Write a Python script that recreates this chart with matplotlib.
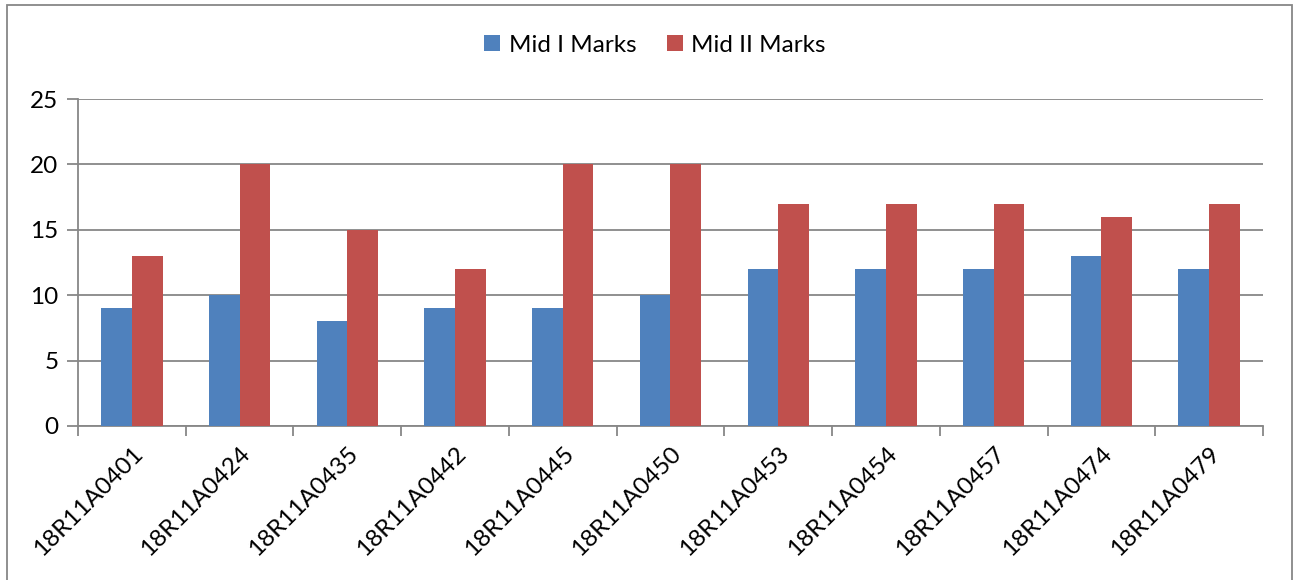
import matplotlib.pyplot as plt
import matplotlib.patches as mpatches
import numpy as np

students = ['18R11A0401', '18R11A0424', '18R11A0435', '18R11A0442', '18R11A0445',
            '18R11A0450', '18R11A0453', '18R11A0454', '18R11A0457', '18R11A0474',
            '18R11A0479']
mid1 = [9, 10, 8, 9, 9, 10, 12, 12, 12, 13, 12]
mid2 = [13, 20, 15, 12, 20, 20, 17, 17, 17, 16, 17]

plt.rcParams['font.family'] = ['Lato', 'DejaVu Sans']
grid_col = '#878787'

W, H = 1294, 580
fig = plt.figure(figsize=(W / 100, H / 100), dpi=100)
ax = fig.add_axes([78 / W, 1 - 426 / H, (1263 - 78) / W, (426 - 99) / H])

x = np.arange(len(students))
bw = 0.285
ax.bar(x - bw / 2, mid1, bw, color='#4F81BD', label='Mid I Marks', zorder=3)
ax.bar(x + bw / 2, mid2, bw, color='#C0504D', label='Mid II Marks', zorder=3)

ax.set_xlim(-0.5, len(students) - 0.5)
ax.set_ylim(0, 25)
ax.set_yticks(range(0, 26, 5))
ax.yaxis.grid(True, color=grid_col, linewidth=1.3, zorder=0)
ax.set_axisbelow(True)

for s in ['top', 'right']:
    ax.spines[s].set_visible(False)
for s in ['left', 'bottom']:
    ax.spines[s].set_color(grid_col)
    ax.spines[s].set_linewidth(1.3)

# ticks sit between categories, labels at the centres
ax.set_xticks(np.arange(len(students) + 1) - 0.5)
ax.set_xticklabels([])
ax.set_xticks(x, minor=True)
ax.set_xticklabels(students, minor=True, rotation=45, ha='right', va='top',
                   rotation_mode='anchor', fontsize=17.5)
ax.tick_params(axis='x', which='minor', length=0, pad=12)
ax.tick_params(axis='x', which='major', length=7, color=grid_col, width=1.3)
ax.tick_params(axis='y', length=8, color=grid_col, width=1.3, labelsize=17.5, pad=6)

ax.legend(loc='center', bbox_to_anchor=(655 / W, 1 - 45 / H),
          bbox_transform=fig.transFigure, ncol=2, frameon=False, fontsize=17.5,
          handlelength=0.65, handleheight=0.65, handletextpad=0.35, columnspacing=1.25)

fig.patches.append(mpatches.Rectangle((7 / W, -0.05), (1292 - 7) / W, 1 - 5 / H + 0.05,
                                      transform=fig.transFigure, fill=False,
                                      edgecolor=grid_col, linewidth=1.3))

fig.savefig('out.png', dpi=100)
